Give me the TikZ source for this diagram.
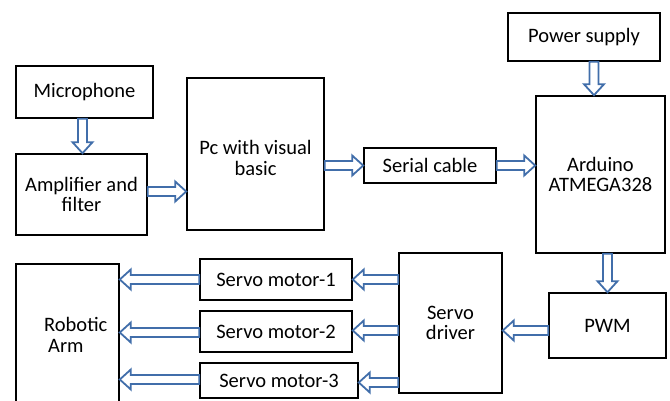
\documentclass[tikz,border=0pt]{standalone}
\usepackage{fontspec}
\setmainfont{Carlito}
\usetikzlibrary{calc}
\definecolor{arrowblue}{RGB}{65,110,170}
\tikzset{
  blk/.style={draw=black, line width=1.6pt, inner sep=0pt, font=\fontsize{20.5}{20.5}\selectfont, align=center},
  txt/.style={inner sep=0pt, font=\fontsize{20.5}{20.5}\selectfont, align=center},
  fat/.style={draw=arrowblue, line width=1.8pt, fill=white, line join=miter},
}
\newcommand\fatarrow[2]{%
  \draw[fat] let \p1=#1, \p2=#2, \p3=($(\p2)!11pt!(\p1)$) in
    ($(\p1)!4.5pt!90:(\p2)$) -- ($(\p3)!4.5pt!90:(\p2)$) -- ($(\p3)!10pt!90:(\p2)$) -- (\p2)
    -- ($(\p3)!10pt!-90:(\p2)$) -- ($(\p3)!4.5pt!-90:(\p2)$) -- ($(\p1)!4.5pt!-90:(\p2)$) -- cycle;%
}
\begin{document}
\begin{tikzpicture}[x=1pt,y=-1pt]
  \useasboundingbox (0,0) rectangle (670,401);
  \clip (0,0) rectangle (670,401);
  % boxes
  \node[blk, minimum width=137pt, minimum height=52pt] (mic) at (84.5,92) {Microphone};
  \node[blk, minimum width=131pt, minimum height=81pt] (amp) at (81.5,194.5) {Amplifier and\\filter};
  \node[blk, minimum width=137pt, minimum height=152pt] (pc) at (255.5,154) {};
  \node[txt] (pctext) at (255.5,158) {Pc with visual\\basic};
  \node[blk, minimum width=132pt, minimum height=35pt] (serial) at (430,165.5) {Serial cable};
  \node[blk, minimum width=152pt, minimum height=48pt] (power) at (584,37) {Power supply};
  \node[blk, minimum width=129pt, minimum height=157pt] (ard) at (600.5,174.5) {Arduino\\ATMEGA328};
  \node[blk, minimum width=117pt, minimum height=65pt] (pwm) at (607.5,325.5) {PWM};
  \node[blk, minimum width=103pt, minimum height=140pt] (drv) at (450.5,323) {Servo\\driver};
  \node[blk, minimum width=152pt, minimum height=41pt] (m1) at (276,279.5) {Servo motor-1};
  \node[blk, minimum width=152pt, minimum height=41pt] (m2) at (276,331.5) {Servo motor-2};
  \node[blk, minimum width=158pt, minimum height=35pt] (m3) at (279,380.5) {Servo motor-3};
  \node[blk, minimum width=103pt, minimum height=150pt] (arm) at (67.5,339) {};
  \node[txt, align=left, anchor=west] (armtext) at (44,335) {Robotic\\\hspace{4pt}Arm};
  % arrows
  \fatarrow{([xshift=-2pt]mic.south)}{([xshift=-2pt]mic.south |- amp.north)}
  \fatarrow{([yshift=3pt]amp.east)}{([yshift=3pt]amp.east -| pc.west)}
  \fatarrow{(serial.west -| pc.east)}{(serial.west)}
  \fatarrow{(serial.east)}{(serial.east -| ard.west)}
  \fatarrow{([xshift=10pt]power.south)}{([xshift=10pt]power.south |- ard.north)}
  \fatarrow{(pwm.north |- ard.south)}{(pwm.north)}
  \fatarrow{([yshift=-5pt]pwm.west)}{([yshift=-5pt]pwm.west -| drv.east)}
  \fatarrow{(m1.east -| drv.west)}{(m1.east -| m2.east)}
  \fatarrow{([yshift=1pt]m2.east -| drv.west)}{([yshift=1pt]m2.east)}
  \fatarrow{([yshift=-2pt]m3.east -| drv.west)}{([yshift=-2pt]m3.east)}
  \fatarrow{(m1.west)}{(m1.west -| arm.east)}
  \fatarrow{([yshift=-1pt]m2.west)}{([yshift=-1pt]m2.west -| arm.east)}
  \fatarrow{([yshift=1pt]m3.west)}{([yshift=1pt]m3.west -| arm.east)}
\end{tikzpicture}
\end{document}
